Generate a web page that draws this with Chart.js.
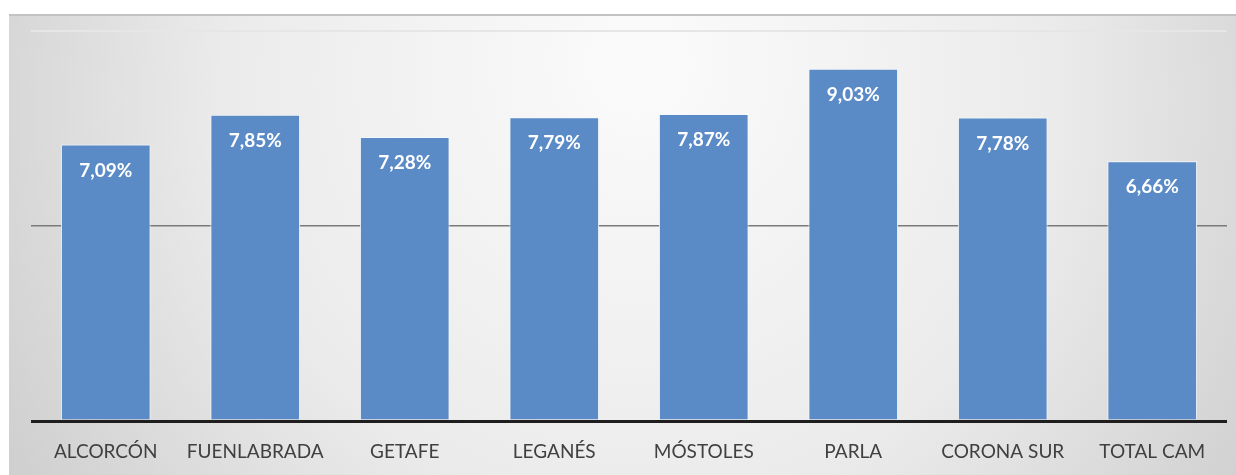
<!DOCTYPE html>
<html>
<head>
<meta charset="utf-8">
<script src="https://cdn.jsdelivr.net/npm/chart.js@4"></script>
<style>
  html, body { margin: 0; padding: 0; background: #fff; }
  #wrap { width: 1236px; height: 475px; position: relative; }
</style>
</head>
<body>
<div id="wrap"><canvas id="tasaChart"></canvas></div>
<script>
// Municipios y tasa (%)
const municipios = ['ALCORCÓN', 'FUENLABRADA', 'GETAFE', 'LEGANÉS', 'MÓSTOLES', 'PARLA', 'CORONA SUR', 'TOTAL CAM'];
const tasas = [7.09, 7.85, 7.28, 7.79, 7.87, 9.03, 7.78, 6.66];
const ejeY = [0, 5, 10];

// Fondo gris con centro claro y línea superior
const fondo = {
  id: 'fondo',
  beforeDraw(chart) {
    const { ctx, width, height } = chart;
    ctx.save();
    ctx.fillStyle = '#ffffff';
    ctx.fillRect(0, 0, width, height);
    const g = ctx.createRadialGradient(640, 60, 30, 640, 120, 800);
    g.addColorStop(0, '#fafafa');
    g.addColorStop(0.5, '#ebebeb');
    g.addColorStop(1, '#c8c8c8');
    ctx.fillStyle = g;
    ctx.fillRect(9, 14, width - 9, height - 14);
    ctx.fillStyle = '#c2c2c2';
    ctx.fillRect(9, 14, width - 9, 2);
    ctx.restore();
  }
};

// Etiquetas de valor dentro de cada barra
const etiquetas = {
  id: 'etiquetas',
  afterDatasetsDraw(chart) {
    const { ctx } = chart;
    const meta = chart.getDatasetMeta(0);
    ctx.save();
    ctx.fillStyle = '#ffffff';
    ctx.font = 'bold 19px Lato';
    ctx.textAlign = 'center';
    ctx.textBaseline = 'middle';
    meta.data.forEach((bar, i) => {
      const txt = tasas[i].toFixed(2).replace('.', ',') + '%';
      ctx.fillText(txt, bar.x, bar.y + 26);
    });
    ctx.restore();
  }
};

new Chart(document.getElementById('tasaChart'), {
  type: 'bar',
  data: {
    labels: municipios,
    datasets: [{
      data: tasas,
      backgroundColor: '#5b8bc7',
      borderColor: '#f4f7fb',
      borderWidth: { left: 1, right: 1, top: 1, bottom: 0 },
      categoryPercentage: 1,
      barPercentage: 0.6
    }]
  },
  options: {
    responsive: true,
    maintainAspectRatio: false,
    animation: false,
    layout: { padding: { left: 31, right: 9, top: 31, bottom: 0 } },
    plugins: { legend: { display: false }, tooltip: { enabled: false } },
    scales: {
      x: {
        grid: { display: false },
        border: { display: false },
        ticks: { color: '#404040', font: { family: 'Lato', size: 19 }, padding: 11, maxRotation: 0 },
        afterFit(scale) { scale.height = 54; }
      },
      y: {
        min: ejeY[0],
        max: ejeY[ejeY.length - 1],
        afterBuildTicks(scale) { scale.ticks = ejeY.map(v => ({ value: v })); },
        ticks: { display: false },
        border: { display: false },
        grid: {
          drawTicks: false,
          color: c => c.tick.value === 0 ? '#1e1e1e' : (c.tick.value === 5 ? '#7a7a7a' : '#e6e6e6'),
          lineWidth: c => c.tick.value === 0 ? 3 : (c.tick.value === 5 ? 1.5 : 2)
        },
        afterFit(scale) { scale.width = 0; }
      }
    }
  },
  plugins: [fondo, etiquetas]
});
</script>
</body>
</html>
